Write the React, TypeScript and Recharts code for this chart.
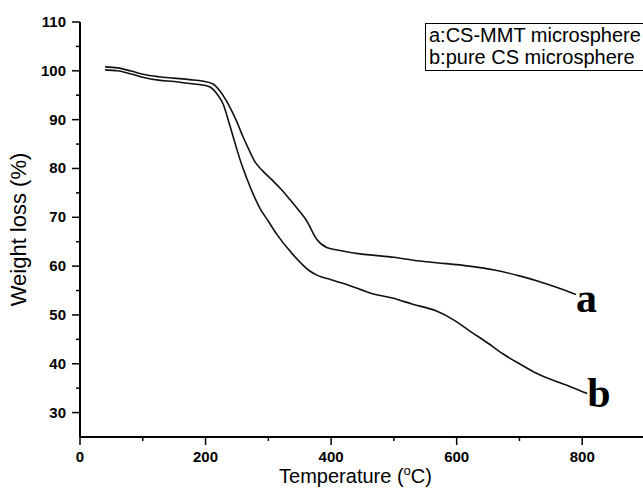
import { LineChart, Line, XAxis, YAxis, Legend } from 'recharts';

// TGA curves (temperature in °C, weight in %)
const tempA = [40, 60, 80, 100, 125, 150, 175, 195, 212, 222, 233, 249, 260, 270, 278, 291, 307, 320, 334, 348, 361, 377, 393, 410, 446, 470, 500, 537, 568, 620, 660, 700, 730, 760, 790];
const weightA = [100.8, 100.6, 100.0, 99.3, 98.8, 98.5, 98.2, 97.9, 97.3, 96.0, 93.9, 89.8, 86.4, 83.6, 81.5, 79.5, 77.5, 75.8, 73.7, 71.5, 69.3, 65.5, 63.8, 63.3, 62.5, 62.2, 61.8, 61.1, 60.7, 60.0, 59.2, 58.0, 56.9, 55.6, 54.2];

const tempB = [40, 60, 80, 100, 125, 150, 175, 195, 207, 218, 228, 238, 249, 257, 265, 275, 286, 300, 313, 339, 366, 380, 398, 430, 462, 499, 530, 568, 595, 621, 650, 674, 700, 728, 760, 781, 808];
const weightB = [100.2, 100.0, 99.4, 98.7, 98.1, 97.8, 97.4, 97.1, 96.7, 95.3, 93.2, 89.1, 84.3, 81.0, 78.2, 75.0, 72.0, 69.2, 66.6, 62.4, 59.0, 58.0, 57.3, 56.0, 54.5, 53.4, 52.2, 50.8, 49.0, 46.7, 44.2, 42.0, 40.0, 38.0, 36.3, 35.3, 33.9];

const xTicks = [0, 100, 200, 300, 400, 500, 600, 700, 800, 900];
const yTicks = [30, 35, 40, 45, 50, 55, 60, 65, 70, 75, 80, 85, 90, 95, 100, 105, 110];

const nameA = 'a:CS-MMT microsphere';
const nameB = 'b:pure CS microsphere';

const dataA = tempA.map((t, i) => ({ t, w: weightA[i] }));
const dataB = tempB.map((t, i) => ({ t, w: weightB[i] }));

const FONT = '"Liberation Sans", Arial, sans-serif';

const YTick = ({ x, y, payload }: any) => {
  const major = payload.value % 10 === 0;
  return (
    <g>
      <line x1={x - (major ? 8 : 4)} x2={x} y1={y} y2={y} stroke="#000" strokeWidth={1.5} />
      {major && (
        <text x={x - 14} y={y} dy={5} textAnchor="end" fontFamily={FONT} fontWeight="bold" fontSize={15} fill="#000">
          {payload.value}
        </text>
      )}
    </g>
  );
};

const XTick = ({ x, y, payload }: any) => {
  const major = payload.value % 200 === 0;
  return (
    <g>
      <line x1={x} x2={x} y1={y} y2={y + (major ? 8 : 4)} stroke="#000" strokeWidth={1.5} />
      {major && payload.value < 900 && (
        <text x={x} y={y + 25} textAnchor="middle" fontFamily={FONT} fontWeight="bold" fontSize={15} fill="#000">
          {payload.value}
        </text>
      )}
    </g>
  );
};

const TopTick = ({ x, y, payload }: any) => {
  const major = payload.value % 200 === 0;
  return <line x1={x} x2={x} y1={y} y2={y + (major ? 5 : 3)} stroke="#000" strokeWidth={1} />;
};

const endLabel = (letter: string, last: number, dy: number) => (p: any) =>
  p.index === last ? (
    <text x={p.x} y={p.y + dy} fontFamily='"Liberation Serif", "Times New Roman", serif' fontWeight="bold" fontSize={42} fill="#000">
      {letter}
    </text>
  ) : (
    <g />
  );

const LegendBox = () => (
  <div
    style={{
      fontFamily: FONT,
      fontSize: 20,
      lineHeight: '22px',
      color: '#000',
      border: '1.5px solid #000',
      borderRight: 'none',
      padding: '0 40px 2px 3px',
      background: '#fff',
      whiteSpace: 'nowrap',
    }}
  >
    <div>{nameA}</div>
    <div>{nameB}</div>
  </div>
);

export default function App() {
  return (
    <div style={{ position: 'absolute', left: 0, top: 0, width: 643, height: 489, overflow: 'hidden', background: '#fff' }}>
      <LineChart width={648} height={489} margin={{ top: 22, right: 3, bottom: 0, left: 0 }}>
        <XAxis
          dataKey="t"
          type="number"
          domain={[0, 900]}
          ticks={xTicks}
          interval={0}
          height={52}
          tickSize={0}
          tickMargin={0}
          tickLine={false}
          tick={<XTick />}
          axisLine={{ stroke: '#000', strokeWidth: 2 }}
          allowDataOverflow
          label={({ viewBox }: any) => (
            <text
              x={viewBox.x + viewBox.width / 2 - 7}
              y={viewBox.y + 46}
              textAnchor="middle"
              fontFamily={FONT}
              fontSize={20}
              fill="#000"
            >
              Temperature (<tspan dy={-8} fontSize={13}>o</tspan>
              <tspan dy={8}>C)</tspan>
            </text>
          )}
        />
        <XAxis
          xAxisId="top"
          orientation="top"
          type="number"
          domain={[0, 900]}
          ticks={xTicks}
          interval={0}
          height={0}
          tickSize={0}
          tickMargin={0}
          tickLine={false}
          tick={<TopTick />}
          axisLine={{ stroke: '#000', strokeWidth: 2 }}
        />
        <YAxis
          type="number"
          domain={[25, 110]}
          ticks={yTicks}
          interval={0}
          width={80}
          tickSize={0}
          tickMargin={0}
          tickLine={false}
          tick={<YTick />}
          axisLine={{ stroke: '#000', strokeWidth: 2 }}
          allowDataOverflow
          label={({ viewBox }: any) => (
            <text
              x={18}
              y={viewBox.y + viewBox.height / 2}
              transform={`rotate(-90, 18, ${viewBox.y + viewBox.height / 2})`}
              textAnchor="middle"
              dominantBaseline="central"
              fontFamily={FONT}
              fontSize={22}
              fill="#000"
            >
              Weight loss (%)
            </text>
          )}
        />
        <Legend
          layout="vertical"
          align="center"
          verticalAlign="middle"
          content={<LegendBox />}
          wrapperStyle={{ top: 23, left: 425, width: 'auto', height: 'auto' }}
        />
        <Line
          data={dataA}
          dataKey="w"
          name={nameA}
          type="monotone"
          stroke="#111"
          strokeWidth={1.6}
          dot={false}
          isAnimationActive={false}
          label={endLabel('a', tempA.length - 1, 18)}
        />
        <Line
          data={dataB}
          dataKey="w"
          name={nameB}
          type="monotone"
          stroke="#111"
          strokeWidth={1.6}
          dot={false}
          isAnimationActive={false}
          label={endLabel('b', tempB.length - 1, 13)}
        />
      </LineChart>
    </div>
  );
}
